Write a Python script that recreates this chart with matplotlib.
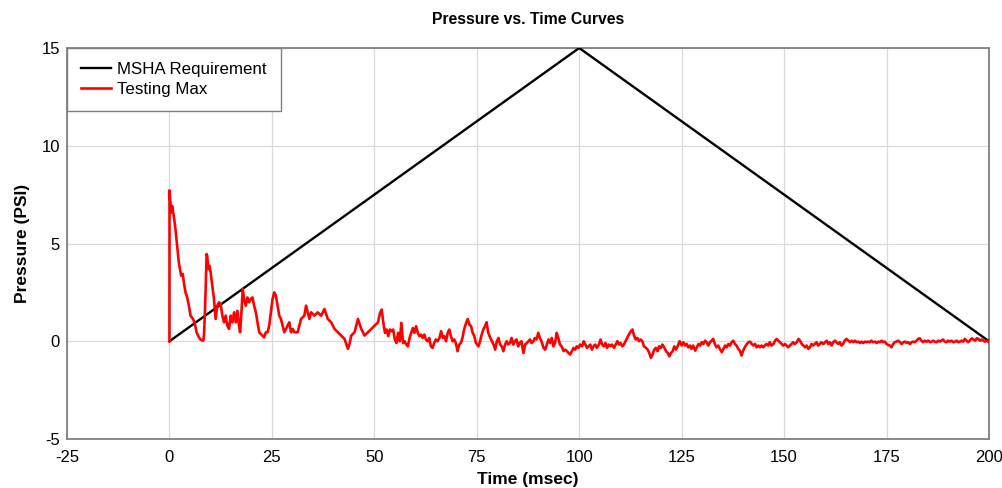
import matplotlib
matplotlib.use("Agg")
import matplotlib.pyplot as plt

plt.rcParams['font.family'] = ['Liberation Sans', 'DejaVu Sans']
plt.rcParams['axes.unicode_minus'] = False

# MSHA requirement (triangle)
msha_t = [0, 100, 200]
msha_p = [0, 15, 0]

# Testing max curve
test_t = [0.0, 0.02, 0.41, 0.65, 1.06, 1.47, 1.88, 2.29, 2.86, 3.27, 3.51, 3.92, 4.33, 4.74, 5.15,
          5.72, 6.13, 6.62, 7.19, 7.60, 8.25, 8.42, 8.66, 8.91, 9.07, 9.23, 9.48, 9.80, 10.05, 10.46,
          10.87, 11.27, 11.68, 12.09, 12.50, 12.91, 13.32, 13.73, 14.13, 14.54, 14.95, 15.36, 15.77,
          16.18, 16.58, 16.99, 17.24, 17.57, 17.89, 18.22, 18.63, 19.04, 19.44, 19.85, 20.26, 20.67,
          21.08, 21.49, 21.90, 22.30, 23.12, 23.53, 23.94, 24.35, 24.75, 25.16, 25.57, 25.98, 26.39,
          26.80, 27.21, 27.61, 28.02, 28.43, 28.84, 29.25, 29.66, 30.07, 30.47, 31.29, 31.70, 32.11,
          32.92, 33.33, 33.74, 34.15, 34.56, 35.38, 36.19, 37.01, 37.83, 38.64, 39.46, 40.28, 41.09,
          41.91, 42.73, 43.55, 43.95, 44.36, 45.18, 46.00, 46.81, 47.63, 48.45, 49.26, 50.08, 50.90,
          51.4, 51.8, 52.2, 52.6, 53.0, 53.4, 53.8, 54.2, 54.6, 55.0, 55.4, 55.8, 56.2, 56.6, 57.0,
          57.4, 57.8, 58.2, 58.6, 59.0, 59.4, 59.8, 60.2, 60.6, 61.0, 61.4, 61.8, 62.2, 62.6, 63.0,
          63.4, 63.8, 64.2, 64.6, 65.0, 65.4, 65.9, 66.3, 66.7, 67.1, 67.5, 67.9, 68.3, 68.7, 69.1,
          69.5, 69.9, 70.3, 70.7, 71.1, 71.5, 71.9, 72.4, 72.8, 73.2, 73.6, 74.0, 74.4, 74.8, 75.4,
          75.8, 76.2, 76.6, 77.0, 77.4, 77.8, 78.3, 78.7, 79.1, 79.5, 79.9, 80.3, 80.7, 81.1, 81.5,
          81.9, 82.3, 82.7, 83.1, 83.5, 83.9, 84.3, 84.7, 85.1, 85.5, 85.9, 86.4, 86.8, 87.2, 87.6,
          88.0, 88.4, 88.8, 89.2, 89.6, 90.0, 90.4, 90.8, 91.3, 91.7, 92.1, 92.5, 92.9, 93.3, 93.7,
          94.1, 94.5, 94.9, 95.3, 95.7, 96.2, 96.6, 97.0, 97.4, 97.8, 98.2, 98.6, 99.0, 99.4, 99.8,
          100.2, 100.7, 101.1, 101.5, 101.9, 102.3, 102.7, 103.1, 103.5, 103.9, 104.3, 104.8, 105.2,
          105.6, 106.0, 106.4, 106.8, 107.2, 107.6, 108.0, 108.5, 108.9, 109.3, 109.7, 110.1, 110.5,
          110.9, 111.3, 111.7, 112.1, 112.6, 113.0, 113.4, 113.8, 114.2, 114.6, 115.0, 115.4, 115.8,
          116.3, 116.7, 117.1, 117.5, 117.9, 118.3, 118.7, 119.1, 119.5, 119.9, 120.3, 120.8, 121.2,
          121.6, 122.0, 122.4, 122.8, 123.2, 123.6, 124.0, 124.5,
          125.0, 125.4, 125.8, 126.2, 126.6, 127.0, 127.4, 127.8, 128.3, 128.7, 129.1, 129.5, 129.9,
          130.3, 130.7, 131.1, 131.5, 131.9, 132.3, 132.7, 133.1, 133.5, 133.9, 134.3, 134.8, 135.2,
          135.6, 136.0, 136.4, 136.8, 137.2, 137.6, 138.0, 138.4, 138.8, 139.2, 139.6, 140.0, 140.4,
          140.9, 141.3, 141.7, 142.1, 142.5, 142.9, 143.3, 143.7, 144.1, 144.5, 144.9, 145.3, 145.7,
          146.1, 146.5, 146.9, 147.4, 147.8, 148.2, 148.6, 149.0, 149.4, 149.8, 150.2, 150.6, 151.0,
          151.4, 151.8, 152.2, 152.6, 153.1, 153.5, 153.9, 154.3, 154.7, 155.1, 155.5, 155.9, 156.3,
          156.7, 157.1, 157.5, 157.9, 158.3, 158.7, 159.1, 159.6, 160.0, 160.4, 160.8, 161.2, 161.6,
          162.0, 162.4, 162.8, 163.2, 163.6, 164.0, 164.4, 164.8, 165.2, 165.7, 166.1, 166.5, 166.9,
          167.3, 167.7, 168.1, 168.5, 168.9, 169.3, 169.7, 170.1, 170.5, 170.9, 171.3, 171.7, 172.2,
          172.6, 173.0, 173.4, 173.8, 174.2, 174.6, 175.0, 175.4, 175.8, 176.2, 176.6, 177.0, 177.4,
          177.8, 178.3, 178.7, 179.1, 179.5, 179.9, 180.3, 180.7, 181.1, 181.5, 181.9, 182.3, 182.7,
          183.1, 183.5, 183.9, 184.3, 184.8, 185.2, 185.6, 186.0, 186.4, 186.8, 187.2, 187.6, 188.0,
          188.4, 188.8, 189.2, 189.6, 190.0, 190.4, 190.9, 191.3, 191.7, 192.1, 192.5, 192.9, 193.3,
          193.7, 194.1, 194.5, 194.9, 195.3, 195.8, 196.2, 196.6, 197.0, 197.4, 197.8, 198.2, 198.6,
          199.0, 199.4, 199.8]
test_p = [0.0, 7.72, 6.58, 6.92, 6.41, 5.73, 4.88, 4.03, 3.35, 3.44, 3.01, 2.50, 2.24, 1.82, 1.31,
          1.14, 0.97, 0.46, 0.20, 0.09, 0.03, 0.29, 1.48, 3.18, 4.46, 4.37, 3.69, 3.86, 3.52, 2.84,
          2.16, 1.14, 1.82, 1.99, 1.90, 1.31, 0.97, 1.31, 0.80, 0.63, 1.31, 0.97, 1.48,
          0.97, 1.56, 0.80, 0.46, 1.48, 2.67, 2.16, 1.82, 2.24, 1.99, 2.16, 2.24, 1.82,
          1.48, 0.97, 0.46, 0.37, 0.20, 0.46, 0.46, 0.80, 1.48, 2.16, 2.50, 2.33, 1.82,
          1.31, 1.14, 0.80, 0.46, 0.63, 0.80, 0.97, 0.46, 0.63, 0.46, 0.46, 0.80, 1.14,
          1.31, 1.82, 1.48, 1.14, 1.48, 1.31, 1.48, 1.31, 1.65, 1.14, 0.97, 0.63, 0.46,
          0.29, 0.12, -0.39, -0.14, 0.29, 0.46, 1.14, 0.63, 0.29, 0.46, 0.63, 0.80, 0.97,
          1.45, 1.62, 0.94, 0.43, 0.60, 0.26, 0.60, 0.51, 0.60, 0.09, -0.09, 0.43, 0.00, 0.94, -0.09,
          0.00, -0.17, -0.26, 0.17, 0.43, 0.68, 0.43, 0.77, 0.43, 0.26, 0.34, 0.17, 0.34, 0.09, 0.00,
          0.17, -0.26, -0.34, -0.09, 0.09, 0.00, 0.17, 0.51, 0.17, 0.26, 0.00, 0.43, 0.60, 0.26, 0.00,
          0.09, -0.09, -0.51, -0.17, -0.09, 0.17, 0.60, 0.94, 1.14, 0.85, 0.77, 0.43, 0.26, -0.09, -0.26,
          0.00, 0.34, 0.60, 0.77, 0.97, 0.43, 0.17, 0.00, -0.17, -0.43, 0.00, 0.17, -0.17, -0.26, -0.51,
          -0.17, 0.00, -0.17, -0.09, 0.17, -0.17, 0.00, 0.09, -0.26, -0.09, 0.00, -0.60, -0.17, -0.09, 0.00,
          0.09, -0.09, 0.00, 0.17, 0.09, 0.43, 0.17, 0.00, -0.34, -0.43, -0.17, 0.09, -0.09, 0.17, -0.26,
          -0.09, 0.43, 0.17, -0.17, -0.26, -0.51, -0.43, -0.51, -0.60, -0.68, -0.51, -0.34, -0.43, -0.26, -0.34,
          -0.17, -0.26, 0.00, -0.17, -0.34, -0.26, -0.17, -0.43, -0.26, -0.17, -0.34, -0.17, 0.09,
          -0.17, -0.26, -0.09, -0.34, -0.17, -0.26, -0.17, -0.34, -0.17, 0.00, -0.17, -0.09, -0.26,
          -0.17, 0.00, 0.17, 0.34, 0.51, 0.60, 0.26, 0.09, 0.17, 0.00, 0.09, 0.00, -0.26,
          -0.34, -0.43, -0.60, -0.85, -0.68, -0.43, -0.34, -0.51, -0.26, -0.34, -0.17, -0.34, -0.51,
          -0.60, -0.77, -0.60, -0.51, -0.26, -0.43, -0.26, 0.00,
          -0.22, -0.05, -0.22, -0.14, -0.31, -0.22, -0.39, -0.22, -0.48, -0.31, -0.14, -0.22, -0.05,
          -0.14, 0.03, -0.05, -0.22, -0.05, 0.03, 0.12, -0.14, -0.31, -0.22, -0.39, -0.56, -0.39,
          -0.22, -0.31, -0.14, -0.22, -0.05, 0.03, -0.14, -0.22, -0.39, -0.48, -0.73, -0.48, -0.31,
          -0.14, -0.05, -0.02, -0.14, -0.22, -0.14, -0.31, -0.22, -0.31, -0.22, -0.31, -0.22, -0.14,
          -0.22, -0.05, -0.22, -0.14, 0.03, 0.12, 0.03, -0.05, -0.14, -0.22, -0.14, -0.22, -0.31,
          -0.22, -0.14, -0.05, -0.14, -0.05, 0.12, 0.03, -0.14, -0.22, -0.31, -0.22, -0.39, -0.31,
          -0.14, -0.22, -0.14, -0.05, -0.22, -0.14, -0.05, -0.14, -0.05, 0.03, -0.14, -0.05, -0.22,
          -0.05, 0.03, -0.05, -0.14, -0.05, -0.22, -0.14, 0.03, 0.12, 0.03, -0.05, 0.03, -0.05,
          0.03, -0.05, -0.02, -0.09, -0.02, -0.09, -0.02, -0.05, -0.02, -0.05, 0.03, -0.05, -0.02,
          -0.09, -0.02, -0.05, 0.03, -0.05, -0.02, -0.14, -0.19, -0.22, -0.31, -0.14, -0.05, -0.02,
          0.03, -0.05, -0.14, -0.05, -0.02, -0.09, -0.05, -0.14, -0.05, -0.02, -0.05, 0.03, 0.12,
          0.15, 0.03, -0.05, 0.03, -0.02, 0.03, -0.05, -0.02, 0.03, -0.02, -0.05, 0.03, -0.02,
          0.03, 0.09, -0.02, -0.05, 0.03, -0.02, 0.03, -0.05, -0.02, 0.03, -0.05, -0.02, 0.03,
          -0.02, 0.12, 0.03, -0.05, 0.03, 0.15, 0.09, 0.03, 0.15, 0.12, 0.03, 0.09, 0.03,
          -0.02, 0.03, -0.02]

x_ticks = [-25, 0, 25, 50, 75, 100, 125, 150, 175, 200]
y_ticks = [-5, 0, 5, 10, 15]

fig = plt.figure(figsize=(10.02, 4.88), dpi=100)
ax = fig.add_axes([67/1002, 1 - 439/488, (989 - 67)/1002, (439 - 48)/488])

ax.plot(msha_t, msha_p, color='black', lw=1.7, label='MSHA Requirement', zorder=3)
ax.plot(test_t, test_p, color='#ff0000', lw=1.9, label='Testing Max', zorder=4)

ax.set_xlim(-25, 200)
ax.set_ylim(-5, 15)
ax.set_xticks(x_ticks)
ax.set_yticks(y_ticks)
ax.tick_params(length=0, labelsize=12)
ax.tick_params(axis='x', pad=8)
ax.tick_params(axis='y', pad=5)
ax.grid(True, color='#d9d9d9', lw=0.9)
ax.set_axisbelow(True)
for s in ax.spines.values():
    s.set_color('#808080')
    s.set_linewidth(1.3)

ax.set_xlabel('Time (msec)', fontsize=12.5, fontweight='bold', labelpad=5)
ax.set_ylabel('Pressure (PSI)', fontsize=12.5, fontweight='bold', labelpad=8)
ax.set_title('Pressure vs. Time Curves', fontsize=11.3, fontweight='bold', pad=17)

leg = ax.legend(loc='upper left', borderaxespad=0, fontsize=12.2, frameon=True,
                fancybox=False, handlelength=1.75, borderpad=0.82,
                labelspacing=0.3, handletextpad=0.4)
leg.get_frame().set_edgecolor('#808080')
leg.get_frame().set_linewidth(1.0)
leg.get_frame().set_alpha(1)

fig.savefig('out.png', dpi=100)
